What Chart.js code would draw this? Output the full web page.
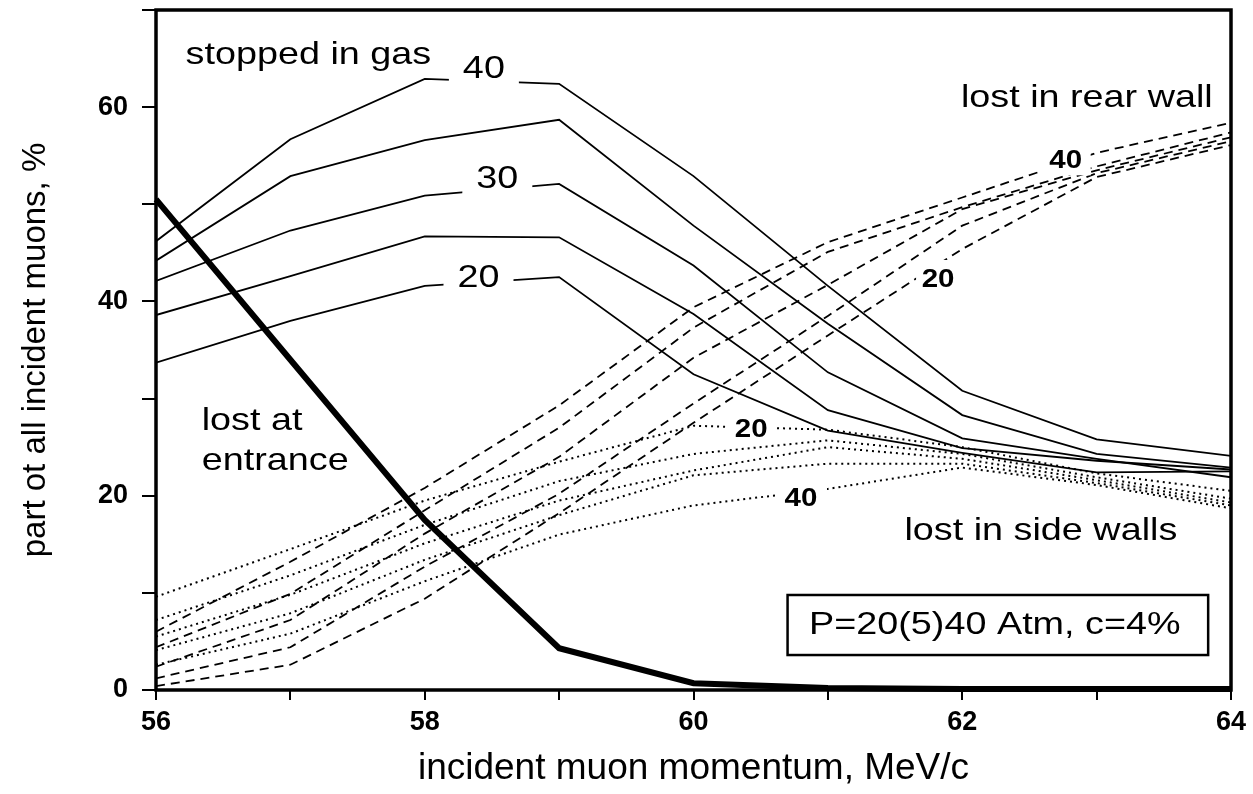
<!DOCTYPE html>
<html>
<head>
<meta charset="utf-8">
<script src="https://cdn.jsdelivr.net/npm/chart.js@4.4.1/dist/chart.umd.min.js"></script>
<style>
  body { margin: 0; background: #fff; }
  #wrap { width: 1253px; height: 794px; }
</style>
</head>
<body>
<div id="wrap"><canvas id="chart"></canvas></div>
<script>
// incident muon momentum, MeV/c
const momentum = [56, 57, 58, 59, 60, 61, 62, 63, 64];

// stopped in gas, P = 40, 35, 30, 25, 20 Atm
const stopped40 = [46.2, 56.7, 62.9, 62.4, 52.9, 41.6, 30.8, 25.8, 24.1];
const stopped35 = [44.2, 52.9, 56.6, 58.7, 47.8, 37.7, 28.3, 24.3, 22.9];
const stopped30 = [42.1, 47.3, 50.9, 52.1, 43.7, 32.7, 25.9, 23.8, 21.9];
const stopped25 = [38.6, 42.6, 46.7, 46.6, 38.7, 28.8, 24.9, 23.6, 22.7];
const stopped20 = [33.7, 38.0, 41.6, 42.5, 32.5, 26.7, 24.4, 22.4, 22.5];

// lost at entrance
const lostEntrance = [50.5, 34.0, 17.5, 4.3, 0.7, 0.2, 0.1, 0.1, 0.1];

// lost in rear wall (dashed)
const rear40 = [6.0, 13.2, 20.8, 29.3, 39.4, 46.1, 50.7, 55.3, 58.4];
const rear35 = [4.4, 9.9, 18.5, 27.0, 37.3, 45.1, 49.7, 53.9, 57.4];
const rear30 = [2.4, 7.2, 16.1, 24.0, 34.2, 41.7, 49.5, 53.5, 56.9];
const rear25 = [1.2, 4.4, 12.7, 20.2, 29.5, 38.5, 47.8, 53.2, 56.5];
const rear20 = [0.4, 2.6, 9.4, 18.2, 27.5, 36.5, 45.4, 52.8, 56.1];

// lost in side walls (dotted)
const side20 = [9.6, 14.5, 19.5, 23.5, 27.2, 26.8, 25.0, 22.3, 20.5];
const side25 = [7.2, 11.8, 17.0, 21.5, 24.3, 25.7, 24.3, 21.9, 19.7];
const side30 = [5.5, 9.8, 15.1, 19.5, 22.6, 25.0, 23.8, 21.6, 19.3];
const side35 = [4.1, 7.9, 13.4, 18.0, 22.1, 23.3, 23.3, 21.3, 19.0];
const side40 = [2.6, 5.8, 11.2, 16.0, 19.0, 20.7, 22.9, 21.1, 18.7];

const yTickLabels = [0, 20, 40, 60];
const xTickLabels = [56, 58, 60, 62, 64];

// curve labels that cut a gap in their line (x, baseline y in data units)
const curveLabels = [
  { text: '40', x: 58.44, y: 63.0, size: 32, weight: 'normal', gap: 70 },
  { text: '30', x: 58.54, y: 51.7, size: 32, weight: 'normal', gap: 70 },
  { text: '20', x: 58.40, y: 41.5, size: 32, weight: 'normal', gap: 70 },
  { text: '40', x: 62.77, y: 53.7, size: 25, weight: 'bold', gap: 50 },
  { text: '20', x: 61.82, y: 41.5, size: 25, weight: 'bold', gap: 44 },
  { text: '20', x: 60.43, y: 26.05, size: 25, weight: 'bold', gap: 49 },
  { text: '40', x: 60.80, y: 18.95, size: 25, weight: 'bold', gap: 52 }
];

// region texts (left edge, baseline)
const regionTexts = [
  { text: 'stopped in gas', x: 56.22, y: 64.44 },
  { text: 'lost in rear wall', x: 61.99, y: 60.02 },
  { text: 'lost at', x: 56.34, y: 26.77 },
  { text: 'entrance', x: 56.34, y: 22.65 },
  { text: 'lost in side walls', x: 61.57, y: 15.44 }
];

const boxText = 'P=20(5)40 Atm, c=4%';
const boxRange = { x1: 60.70, x2: 63.83, y1: 3.6, y2: 9.78, tx: 60.86, ty: 5.76 };

const FONT = '"Liberation Sans", Arial, sans-serif';
const STRETCH = 1.18;

function pts(arr) {
  return momentum.map((x, i) => ({ x: x, y: arr[i] }));
}

function solid(arr) {
  return { data: pts(arr), borderColor: '#000', borderWidth: 1.8, pointRadius: 0, fill: false };
}
function dashed(arr) {
  return { data: pts(arr), borderColor: '#000', borderWidth: 1.8, borderDash: [9, 6], pointRadius: 0, fill: false };
}
function dotted(arr) {
  return { data: pts(arr), borderColor: '#000', borderWidth: 2, borderDash: [2, 4], pointRadius: 0, fill: false };
}

function drawText(ctx, text, px, py, size, weight) {
  ctx.save();
  ctx.font = weight + ' ' + size + 'px ' + FONT;
  ctx.fillStyle = '#000';
  ctx.textAlign = 'left';
  ctx.textBaseline = 'alphabetic';
  ctx.translate(px, py);
  ctx.scale(STRETCH, 1);
  ctx.fillText(text, 0, 0);
  ctx.restore();
}

const annotations = {
  id: 'annotations',
  afterDraw(chart) {
    const ctx = chart.ctx;
    const xs = chart.scales.x;
    const ys = chart.scales.y;
    const area = chart.chartArea;

    // curve labels with white gap
    curveLabels.forEach(l => {
      const cx = xs.getPixelForValue(l.x);
      const by = ys.getPixelForValue(l.y);
      const cap = l.size * 0.716;
      ctx.save();
      ctx.fillStyle = '#fff';
      ctx.fillRect(cx - l.gap / 2, by - cap - 9, l.gap, cap + 16);
      ctx.font = l.weight + ' ' + l.size + 'px ' + FONT;
      const w = ctx.measureText(l.text).width * STRETCH;
      ctx.restore();
      drawText(ctx, l.text, cx - w / 2, by, l.size, l.weight);
    });

    regionTexts.forEach(t => {
      drawText(ctx, t.text, xs.getPixelForValue(t.x), ys.getPixelForValue(t.y), 32, 'normal');
    });

    // parameter box
    const bx1 = xs.getPixelForValue(boxRange.x1);
    const bx2 = xs.getPixelForValue(boxRange.x2);
    const by1 = ys.getPixelForValue(boxRange.y2);
    const by2 = ys.getPixelForValue(boxRange.y1);
    ctx.save();
    ctx.fillStyle = '#fff';
    ctx.fillRect(bx1, by1, bx2 - bx1, by2 - by1);
    ctx.strokeStyle = '#000';
    ctx.lineWidth = 2.5;
    ctx.strokeRect(bx1, by1, bx2 - bx1, by2 - by1);
    ctx.restore();
    drawText(ctx, boxText, xs.getPixelForValue(boxRange.tx), ys.getPixelForValue(boxRange.ty), 32, 'normal');

    // frame
    ctx.save();
    ctx.strokeStyle = '#000';
    ctx.lineWidth = 3.5;
    ctx.strokeRect(area.left, area.top, area.right - area.left, area.bottom - area.top);
    ctx.restore();
  }
};

new Chart(document.getElementById('chart'), {
  type: 'line',
  data: {
    datasets: [
      solid(stopped40), solid(stopped35), solid(stopped30), solid(stopped25), solid(stopped20),
      dashed(rear40), dashed(rear35), dashed(rear30), dashed(rear25), dashed(rear20),
      dotted(side20), dotted(side25), dotted(side30), dotted(side35), dotted(side40),
      { data: pts(lostEntrance), borderColor: '#000', borderWidth: 6, pointRadius: 0, fill: false, clip: 8 }
    ]
  },
  options: {
    responsive: true,
    maintainAspectRatio: false,
    animation: false,
    layout: { padding: { top: 10, right: 22, left: 0, bottom: 0 } },
    plugins: {
      legend: { display: false },
      tooltip: { enabled: false }
    },
    scales: {
      x: {
        type: 'linear',
        min: 56,
        max: 64,
        afterFit: s => { s.height = 104; s.paddingLeft = 0; s.paddingRight = 0; },
        border: { display: false },
        grid: { drawOnChartArea: false, drawTicks: true, tickLength: 10, color: '#000', lineWidth: 2 },
        ticks: {
          stepSize: 1,
          padding: 6,
          color: '#000',
          font: { family: FONT, size: 27, weight: 'bold' },
          callback: v => xTickLabels.includes(v) ? String(v) : ''
        },
        title: {
          display: true,
          text: 'incident muon momentum, MeV/c',
          color: '#000',
          font: { family: FONT, size: 37 },
          padding: { top: 0, bottom: 3 }
        }
      },
      y: {
        min: 0,
        max: 70,
        afterFit: s => { s.width = 156; s.paddingTop = 0; s.paddingBottom = 0; },
        border: { display: false },
        grid: { drawOnChartArea: false, drawTicks: true, tickLength: 14, color: '#000', lineWidth: 2 },
        ticks: {
          stepSize: 10,
          padding: 14,
          color: '#000',
          font: { family: FONT, size: 27, weight: 'bold' },
          callback: v => yTickLabels.includes(v) ? String(v) : ''
        },
        title: {
          display: true,
          text: 'part ot all incident muons, %',
          color: '#000',
          font: { family: FONT, size: 33 },
          padding: { top: 16, bottom: 0 }
        }
      }
    }
  },
  plugins: [annotations]
});
</script>
</body>
</html>
